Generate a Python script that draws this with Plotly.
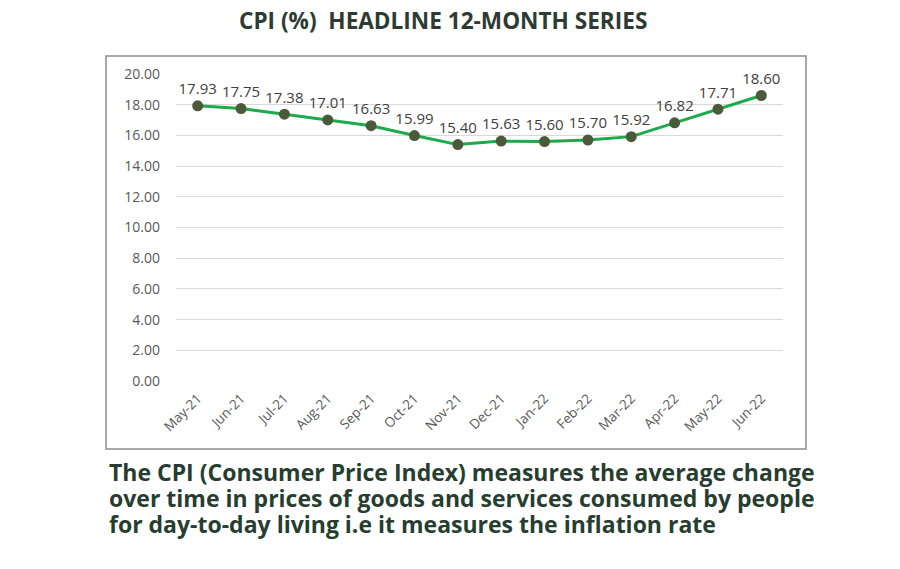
import plotly.graph_objects as go

months = ["May-21", "Jun-21", "Jul-21", "Aug-21", "Sep-21", "Oct-21", "Nov-21",
          "Dec-21", "Jan-22", "Feb-22", "Mar-22", "Apr-22", "May-22", "Jun-22"]
cpi = [17.93, 17.75, 17.38, 17.01, 16.63, 15.99, 15.40,
       15.63, 15.60, 15.70, 15.92, 16.82, 17.71, 18.60]
y_ticks = [0, 2, 4, 6, 8, 10, 12, 14, 16, 18, 20]

title_text = "CPI (%)  HEADLINE 12-MONTH SERIES"
note_lines = [
    "The CPI (Consumer Price Index) measures the average change",
    "over time in prices of goods and services consumed by people",
    "for day-to-day living i.e it measures the inflation rate",
]

W, H = 900, 569
FONT = "Open Sans"


def px(x):
    return x / W


def py(y):
    return (H - y) / H


fig = go.Figure(go.Scatter(
    x=list(range(len(months))),
    y=cpi,
    mode="lines+markers+text",
    line=dict(color="#1caa4b", width=3),
    marker=dict(size=11, color="#4b5a3a", line=dict(width=0)),
    text=[f"{v:.2f}" for v in cpi],
    textposition="top center",
    textfont=dict(family=FONT, size=15, color="#404040"),
    cliponaxis=False,
    hoverinfo="skip",
))

notes = [dict(text=f"<b>{line}</b>", xref="paper", yref="paper",
              x=px(107), y=py(472 + 26 * i), xanchor="left", yanchor="middle",
              showarrow=False, font=dict(family=FONT, size=23, color="#273d30"))
         for i, line in enumerate(note_lines)]

fig.update_layout(
    width=W, height=H,
    margin=dict(l=0, r=0, t=0, b=0, autoexpand=False),
    paper_bgcolor="white",
    plot_bgcolor="white",
    showlegend=False,
    font=dict(family=FONT, color="#595959"),
    xaxis=dict(
        domain=[px(176), px(783)],
        range=[-0.5, 13.5],
        tickmode="array",
        tickvals=list(range(len(months))),
        ticktext=months,
        tickangle=-45,
        tickfont=dict(size=13.5, color="#595959"),
        ticklabelstandoff=6,
        showgrid=False, zeroline=False, showline=False, ticks="",
        automargin=False,
    ),
    yaxis=dict(
        domain=[py(381), py(74)],
        range=[0, 20],
        tickvals=y_ticks,
        ticktext=[f"{v:.2f}" for v in y_ticks],
        tickfont=dict(size=14, color="#595959"),
        ticklabelstandoff=15,
        gridcolor="#d9d9d9", gridwidth=1,
        zeroline=False, showline=False, ticks="",
        automargin=False,
    ),
    shapes=[dict(type="rect", xref="paper", yref="paper",
                 x0=px(106), x1=px(806), y0=py(449), y1=py(56),
                 line=dict(color="#8c8c8c", width=1.5))],
    annotations=[
        dict(text=f"<b>{title_text}</b>", xref="paper", yref="paper",
             x=px(443), y=py(21), xanchor="center", yanchor="middle",
             showarrow=False, font=dict(family=FONT, size=22.6, color="#2e3b33")),
    ] + notes,
)

fig.write_html("out.html", config={"displayModeBar": False},
               post_script="document.body.style.margin='0';")
